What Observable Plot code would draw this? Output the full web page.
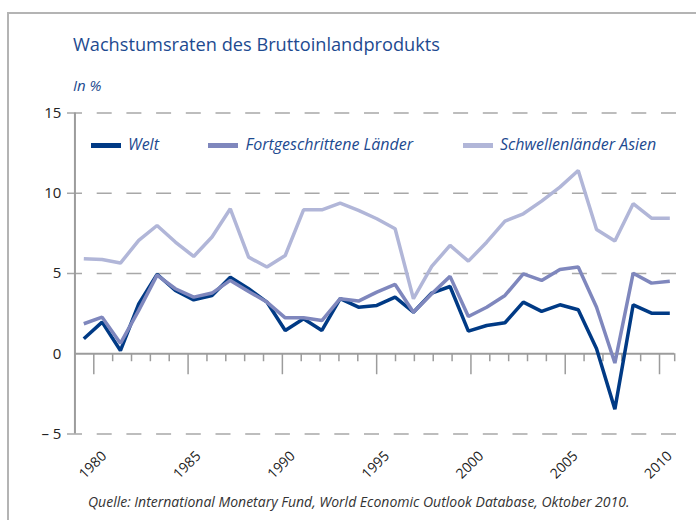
<!DOCTYPE html>
<html>
<head>
<meta charset="utf-8">
<script src="https://cdn.jsdelivr.net/npm/d3@7"></script>
<script src="https://cdn.jsdelivr.net/npm/@observablehq/plot@0.6"></script>
<style>
  body { margin: 0; background: #fff; }
  #wrap { position: relative; width: 696px; height: 520px; overflow: hidden; background: #fff; font-family: "Open Sans", sans-serif; }
  #frame { position: absolute; left: 7px; top: 12px; width: 720px; height: 540px; border-top: 2px solid #b4b4b4; border-left: 2px solid #b4b4b4; }
  .abs { position: absolute; white-space: nowrap; }
  #title { left: 73px; top: 32px; font-size: 18.2px; color: #1d4a90; }
  #unit { left: 73px; top: 75px; font-size: 15px; font-style: italic; color: #1d4a90; }
  #caption { left: 88px; top: 492px; font-size: 14px; font-style: italic; color: #333; }
  .sw { position: absolute; height: 5px; width: 30px; top: 142.5px; }
  .lg { position: absolute; top: 133px; font-size: 16px; font-style: italic; color: #1d4a90; }
  svg.plot { position: absolute; left: 0; top: 0; }
</style>
</head>
<body>
<div id="wrap">
  <div id="frame"></div>
  <div id="title" class="abs">Wachstumsraten des Bruttoinlandprodukts</div>
  <div id="unit" class="abs">In %</div>
  <div id="legend"></div>
  <div id="caption" class="abs">Quelle: International Monetary Fund, World Economic Outlook Database, Oktober 2010.</div>
</div>
<script>
// ---- data ----
const years = d3.range(1980, 2013);
const seriesNames = ["Welt", "Fortgeschrittene Länder", "Schwellenländer Asien"];
const seriesColors = ["#003a85", "#7f87bd", "#b1b6d8"];
const welt = [0.93, 1.97, 0.2, 3.1, 4.95, 3.94, 3.36, 3.63, 4.77, 4.05, 3.22, 1.45, 2.18, 1.45, 3.43, 2.9, 3.01, 3.53, 2.59, 3.78, 4.19, 1.41, 1.76, 1.93, 3.22, 2.64, 3.05, 2.74, 0.31, -3.45, 3.05, 2.53, 2.53];
const fortgeschritten = [1.87, 2.28, 0.65, 2.7, 4.9, 4.05, 3.53, 3.78, 4.57, 3.88, 3.22, 2.24, 2.24, 2.07, 3.43, 3.28, 3.84, 4.32, 2.59, 3.74, 4.82, 2.32, 2.9, 3.63, 4.98, 4.57, 5.25, 5.4, 2.9, -0.58, 5.02, 4.4, 4.52];
const asien = [5.92, 5.87, 5.65, 7.06, 7.99, 6.96, 6.06, 7.27, 9.03, 6.02, 5.4, 6.12, 8.97, 8.97, 9.38, 8.93, 8.41, 7.79, 3.43, 5.44, 6.75, 5.77, 6.95, 8.26, 8.72, 9.51, 10.38, 11.42, 7.74, 7.02, 9.35, 8.45, 8.45];
const yTicks = [-5, 0, 5, 10, 15];
const yTickLabels = ["– 5", "0", "5", "10", "15"];
const xLabelYears = [1980, 1985, 1990, 1995, 2000, 2005, 2010];

// ---- shared geometry ----
const W = 696, H = 520;
const marginTop = 112.5, marginBottom = 86.5;
const yDomain = [-5, 15];
const pxPerUnit = (H - marginTop - marginBottom) / 20;

const rows = [];
[welt, fortgeschritten, asien].forEach((vals, i) => {
  vals.forEach((v, j) => rows.push({series: seriesNames[i], year: years[j], value: v}));
});

// axis plot (category ticks)
const tickStep = 18.857;
const axisLeftPx = 67, axisRightPx = 676;
const xAxisDomain = [1980 - (93.3 - axisLeftPx) / tickStep, 1980 + (axisRightPx - 93.3) / tickStep];
const axisEnd = 1980 + (674.2 - 93.3) / tickStep;
const tickYears = d3.range(1980, 2011);
const minorTicks = tickYears.filter(t => t % 5 !== 0).concat([axisEnd]);
const majorTicks = tickYears.filter(t => t % 5 === 0);

const axisPlot = Plot.plot({
  width: W, height: H,
  marginLeft: axisLeftPx, marginRight: W - axisRightPx,
  marginTop, marginBottom,
  x: {domain: xAxisDomain, axis: null},
  y: {domain: yDomain, axis: null},
  style: {fontFamily: "Open Sans, sans-serif", background: "transparent"},
  marks: [
    Plot.ruleY(yTicks.filter(v => v !== 0), {stroke: "#a8a8a8", strokeWidth: 1.6, strokeDasharray: "15,14.7"}),
    Plot.ruleX([1979], {y1: -5, y2: 15, stroke: "#9c9c9c", strokeWidth: 2}),
    Plot.ruleY([0], {x1: 1979, x2: axisEnd, stroke: "#9c9c9c", strokeWidth: 2}),
    Plot.ruleX(minorTicks, {y1: 0, y2: -8 / pxPerUnit, stroke: "#9c9c9c", strokeWidth: 1.5}),
    Plot.ruleX(majorTicks, {y1: 0, y2: -21 / pxPerUnit, stroke: "#9c9c9c", strokeWidth: 1.5}),
    Plot.text(yTicks, {x: 1979, y: d => d, text: (d, i) => yTickLabels[i], dx: -13.5, textAnchor: "end", fontSize: 15, fill: "#222"}),
    Plot.text(xLabelYears, {x: d => d, y: -5, text: d => String(d), rotate: -45, dy: 31, dx: -1, textAnchor: "middle", fontSize: 14, fill: "#222"})
  ]
});

// data plot
const dataPlot = Plot.plot({
  width: W, height: H,
  marginLeft: 83.3, marginRight: W - 669.3,
  marginTop, marginBottom,
  x: {domain: [1980, 2012], axis: null},
  y: {domain: yDomain, axis: null},
  color: {domain: seriesNames, range: seriesColors},
  style: {background: "transparent"},
  marks: [
    Plot.line(rows, {x: "year", y: "value", z: "series", stroke: "series", strokeWidth: 3.5, strokeLinejoin: "miter", strokeLinecap: "butt"})
  ]
});

const wrap = document.getElementById("wrap");
[axisPlot, dataPlot].forEach(p => {
  p.style.position = "absolute"; p.style.left = "0"; p.style.top = "0";
  wrap.appendChild(p);
});

// legend
const legend = document.getElementById("legend");
const swX = [91, 208, 463], txX = [128, 245.5, 500];
seriesNames.forEach((name, i) => {
  const s = document.createElement("div");
  s.className = "sw"; s.style.left = swX[i] + "px"; s.style.background = seriesColors[i];
  legend.appendChild(s);
  const t = document.createElement("div");
  t.className = "lg abs"; t.style.left = txX[i] + "px"; t.textContent = name;
  legend.appendChild(t);
});
</script>
</body>
</html>
